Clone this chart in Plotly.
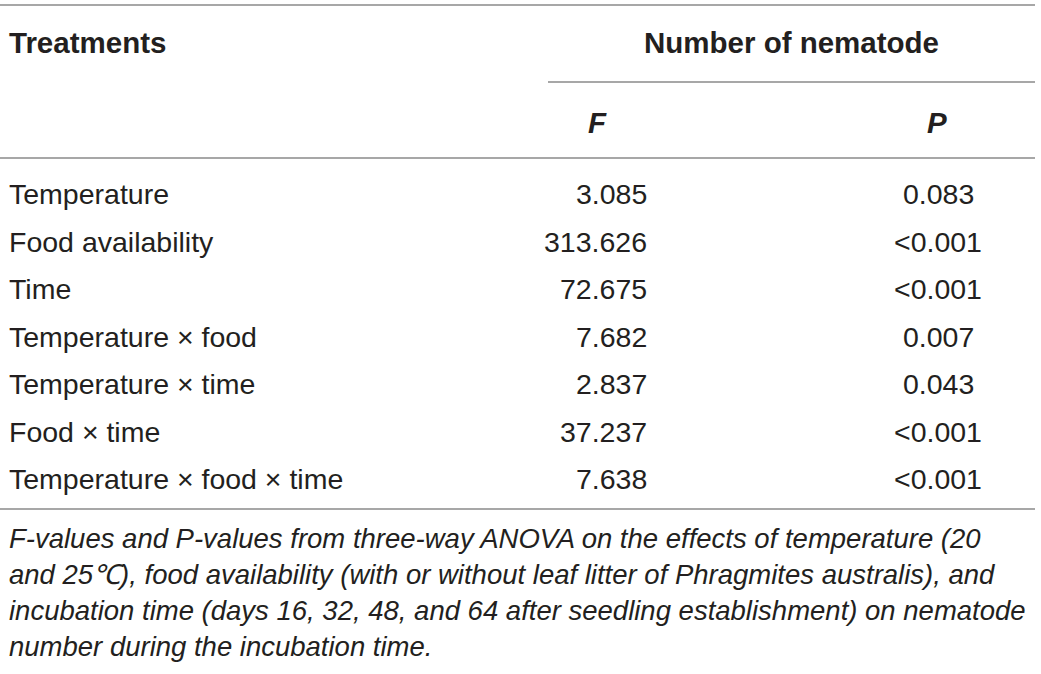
import plotly.graph_objects as go

# ---- data ----
treatments = ["Temperature", "Food availability", "Time", "Temperature × food",
              "Temperature × time", "Food × time", "Temperature × food × time"]
f_values = ["3.085", "313.626", "72.675", "7.682", "2.837", "37.237", "7.638"]
p_values = ["0.083", "<0.001", "<0.001", "0.007", "0.043", "<0.001", "<0.001"]
header_first = "Treatments"
header_group = "Number of nematode"
header_cols = ["F", "P"]
caption_lines = [
    "F-values and P-values from three-way ANOVA on the effects of temperature (20",
    "and 25℃), food availability (with or without leaf litter of Phragmites australis), and",
    "incubation time (days 16, 32, 48, and 64 after seedling establishment) on nematode",
    "number during the incubation time.",
]

W, H = 1041, 674
TXT = "#231f20"
LINE = "#8a8a8a"
FONT = "Liberation Sans, Arial, sans-serif"

fig = go.Figure()
fig.add_trace(go.Scatter(x=[0, W], y=[0, H], mode="markers",
                         marker=dict(opacity=0), hoverinfo="skip", showlegend=False))

ann = []
def txt(x, y, s, anchor="left", size=28.5, bold=False, italic=False):
    if bold:
        s = "<b>" + s + "</b>"
    if italic:
        s = "<i>" + s + "</i>"
    ann.append(dict(x=x, y=y, xref="x", yref="y", text=s, showarrow=False,
                    xanchor=anchor, yanchor="middle",
                    font=dict(family=FONT, size=size, color=TXT)))

txt(7, 42, header_first, bold=True, size=29.5)
txt(791, 42, header_group, anchor="center", bold=True, size=29.5)
txt(597, 122, header_cols[0], anchor="center", bold=True, italic=True, size=29.5)
txt(937, 122, header_cols[1], anchor="center", bold=True, italic=True, size=29.5)

row_y0, row_dy = 194, 47.5
for i, (t, f, p) in enumerate(zip(treatments, f_values, p_values)):
    y = row_y0 + i * row_dy
    txt(7, y, t)
    txt(649, y, f, anchor="right")
    txt(938, y, p, anchor="center")

cap_y0, cap_dy = 538, 36
for i, line in enumerate(caption_lines):
    txt(7, cap_y0 + i * cap_dy, line, italic=True, size=27.5)

shapes = []
def hline(x0, x1, y):
    shapes.append(dict(type="line", xref="x", yref="y", x0=x0, x1=x1, y0=y, y1=y,
                       line=dict(color=LINE, width=1.5)))
hline(0, 1035, 5)
hline(548, 1035, 82)
hline(0, 1035, 158)
hline(0, 1035, 509)

fig.update_layout(
    width=W, height=H, margin=dict(l=0, r=0, t=0, b=0),
    paper_bgcolor="white", plot_bgcolor="white",
    xaxis=dict(range=[0, W], visible=False, fixedrange=True),
    yaxis=dict(range=[H, 0], visible=False, fixedrange=True),
    annotations=ann, shapes=shapes, showlegend=False,
)
fig.write_html("out.html", config={"displayModeBar": False})

with open("out.html", "r", encoding="utf-8") as fh:
    html = fh.read()
html = html.replace("<head>", "<head><style>html,body{margin:0;padding:0;overflow:hidden;}</style>", 1)
with open("out.html", "w", encoding="utf-8") as fh:
    fh.write(html)
